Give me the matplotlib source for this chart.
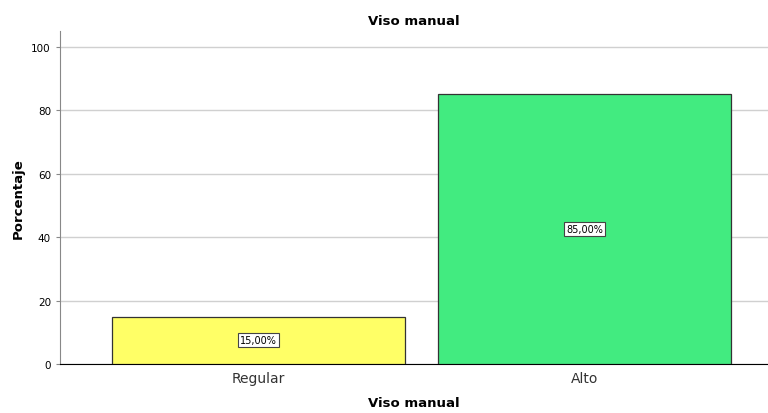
import matplotlib.pyplot as plt

# Data
categories = ['Regular', 'Alto']
percentages = [15.0, 85.0]
bar_colors = ['#ffff66', '#42eb80']
y_ticks = [0, 20, 40, 60, 80, 100]

fig = plt.figure(figsize=(7.68, 4.14), dpi=100)
ax = fig.add_axes([0.078, 0.118, 0.922, 0.805])

x = range(len(categories))
bars = ax.bar(x, percentages, width=0.9, color=bar_colors,
              edgecolor='#333333', linewidth=0.9, zorder=3)

for bar, val in zip(bars, percentages):
    ax.text(bar.get_x() + bar.get_width() / 2, val / 2,
            f'{val:.2f}%'.replace('.', ','),
            ha='center', va='center', fontsize=7, zorder=4,
            bbox=dict(boxstyle='square,pad=0.2', fc='white', ec='#444444', lw=0.8))

ax.set_xlim(-0.609, 1.563)
ax.set_ylim(0, 105)
ax.set_yticks(y_ticks)
ax.set_xticks(list(x))
ax.set_xticklabels(categories, fontsize=10, color='#333333')
ax.tick_params(axis='y', labelsize=7.5, length=3, color='#888888')
ax.tick_params(axis='x', length=0, pad=5)

ax.grid(axis='y', color='#d0d0d0', linewidth=1, zorder=0)
ax.spines['top'].set_visible(False)
ax.spines['right'].set_visible(False)
ax.spines['left'].set_color('#888888')
ax.spines['bottom'].set_color('#000000')

ax.set_title('Viso manual', fontsize=9.5, fontweight='bold', pad=5)
ax.set_xlabel('Viso manual', fontsize=9.5, fontweight='bold', labelpad=8)
ax.set_ylabel('Porcentaje', fontsize=9.5, fontweight='bold', labelpad=5)

fig.savefig('out.png', dpi=100)
